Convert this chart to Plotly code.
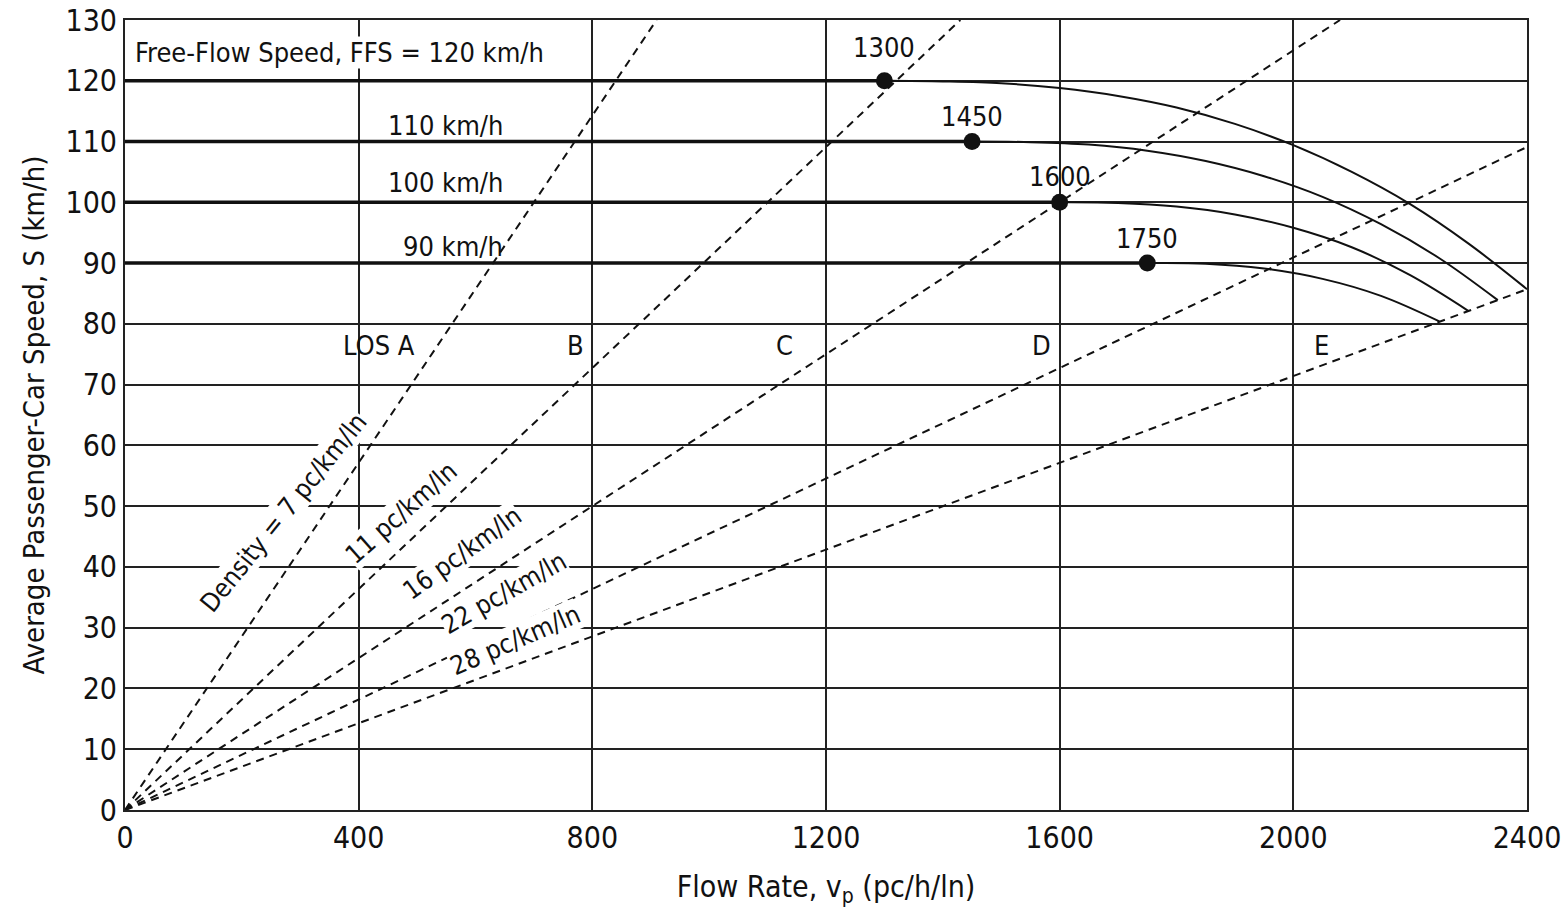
import plotly.graph_objects as go

# ---------------- data ----------------
ffs_values = [120, 110, 100, 90]
breakpoints = [1300, 1450, 1600, 1750]

curve_flow_120 = [1300, 1400, 1500, 1600, 1700, 1800, 1900, 2000, 2100, 2200, 2300, 2400]
curve_speed_120 = [120, 119.9, 119.6, 118.8, 117.5, 115.6, 112.9, 109.4, 105.0, 99.7, 93.2, 85.7]

curve_flow_110 = [1450, 1550, 1650, 1750, 1850, 1950, 2050, 2150, 2250, 2350]
curve_speed_110 = [110, 109.9, 109.5, 108.5, 106.8, 104.3, 100.9, 96.4, 90.8, 83.9]

curve_flow_100 = [1600, 1700, 1800, 1900, 2000, 2100, 2200, 2300]
curve_speed_100 = [100, 99.9, 99.3, 98.0, 95.8, 92.6, 88.0, 82.1]

curve_flow_90 = [1750, 1850, 1950, 2050, 2150, 2250]
curve_speed_90 = [90, 89.9, 89.1, 87.4, 84.6, 80.4]

densities = [7, 11, 16, 22, 28]
density_end_flow = [910, 1430, 2080, 2400, 2400]
density_end_speed = [130, 130, 130, 109.1, 85.7]

x_ticks = [0, 400, 800, 1200, 1600, 2000, 2400]
y_ticks = list(range(0, 131, 10))

ffs_labels = ["Free-Flow Speed, FFS = 120 km/h", "110 km/h", "100 km/h", "90 km/h"]
ffs_label_y = [124.6, 112.7, 103.2, 92.8]
bp_labels = ["1300", "1450", "1600", "1750"]
bp_label_y = [125.4, 114.2, 104.3, 94.1]
los_labels = ["LOS A", "B", "C", "D", "E"]
los_x = [435, 772, 1129, 1569, 2048]
density_labels = ["Density = 7 pc/km/ln", "11 pc/km/ln", "16 pc/km/ln", "22 pc/km/ln", "28 pc/km/ln"]
density_label_x = [272, 472, 577, 648, 668]
density_label_y = [49.0, 48.9, 42.3, 35.7, 28.0]
density_label_angle = [51, 41.5, 35.8, 29.6, 23.4]

FONT = "DejaVu Sans Condensed, Liberation Sans Narrow, Arial Narrow, sans-serif"
INK = "#111111"
ANN_SIZE = 27

fig = go.Figure()

# density (dashed) lines
for d, xe, ye in zip(densities, density_end_flow, density_end_speed):
    fig.add_trace(go.Scatter(x=[0, xe], y=[0, ye], mode="lines",
                             line=dict(color=INK, width=2, dash="8px,6px"),
                             hoverinfo="skip", showlegend=False))

# speed-flow curves (thin)
curves = [(curve_flow_120, curve_speed_120), (curve_flow_110, curve_speed_110),
          (curve_flow_100, curve_speed_100), (curve_flow_90, curve_speed_90)]
for cx, cy in curves:
    fig.add_trace(go.Scatter(x=cx, y=cy, mode="lines", line=dict(color=INK, width=2, shape="spline"),
                             hoverinfo="skip", showlegend=False))

# flat heavy segments
for ffs, bp in zip(ffs_values, breakpoints):
    fig.add_trace(go.Scatter(x=[0, bp], y=[ffs, ffs], mode="lines", line=dict(color=INK, width=3.5),
                             hoverinfo="skip", showlegend=False))

# breakpoint dots
fig.add_trace(go.Scatter(x=breakpoints, y=ffs_values, mode="markers",
                         marker=dict(color=INK, size=17, line=dict(width=0)),
                         hoverinfo="skip", showlegend=False))

ann = []
# FFS labels
ann.append(dict(x=15, y=ffs_label_y[0], text=ffs_labels[0], xanchor="left", yanchor="middle", showarrow=False,
                font=dict(family=FONT, size=ANN_SIZE, color=INK), bgcolor="white", borderpad=0))
for lab, yy in zip(ffs_labels[1:], ffs_label_y[1:]):
    ann.append(dict(x=650, y=yy, text=lab, xanchor="right", yanchor="middle", showarrow=False,
                    font=dict(family=FONT, size=ANN_SIZE, color=INK)))
# breakpoint labels
for lab, bx, yy in zip(bp_labels, breakpoints, bp_label_y):
    ann.append(dict(x=bx, y=yy, text=lab, xanchor="center", yanchor="middle", showarrow=False,
                    font=dict(family=FONT, size=ANN_SIZE, color=INK)))
# LOS labels
for lab, lx in zip(los_labels, los_x):
    ann.append(dict(x=lx, y=76.4, text=lab, xanchor="center", yanchor="middle", showarrow=False,
                    font=dict(family=FONT, size=ANN_SIZE, color=INK)))
# density labels
for lab, lx, ly, ang in zip(density_labels, density_label_x, density_label_y, density_label_angle):
    ann.append(dict(x=lx, y=ly, text=lab, textangle=-ang, xanchor="center", yanchor="middle",
                    showarrow=False, font=dict(family=FONT, size=26, color=INK),
                    bgcolor="white", borderpad=0))

axis_common = dict(showgrid=True, gridcolor="#222222", gridwidth=2,
                   showline=True, linecolor="#222222", linewidth=2, mirror=True, zeroline=False,
                   ticks="", tickfont=dict(family=FONT, size=30, color=INK),
                   automargin=False, ticklabeloverflow="allow")

fig.update_layout(
    width=1565, height=919,
    margin=dict(l=125, r=38, t=20, b=109, autoexpand=False),
    paper_bgcolor="white", plot_bgcolor="white",
    font=dict(family=FONT, color=INK),
    annotations=ann,
    xaxis=dict(range=[0, 2400], tickvals=x_ticks, **axis_common,
               title=dict(text="Flow Rate, v<sub>p</sub> (pc/h/ln)", font=dict(family=FONT, size=30, color=INK),
                          standoff=22)),
    yaxis=dict(range=[0, 130], tickvals=y_ticks, **axis_common,
               title=dict(text="Average Passenger-Car Speed, S (km/h)", font=dict(family=FONT, size=29, color=INK),
                          standoff=12)),
)

# remove the default page margin so the figure fills the window exactly
fig.write_html("out.html", config={"displayModeBar": False},
               post_script="document.body.style.margin='0';document.body.style.overflow='hidden';")
